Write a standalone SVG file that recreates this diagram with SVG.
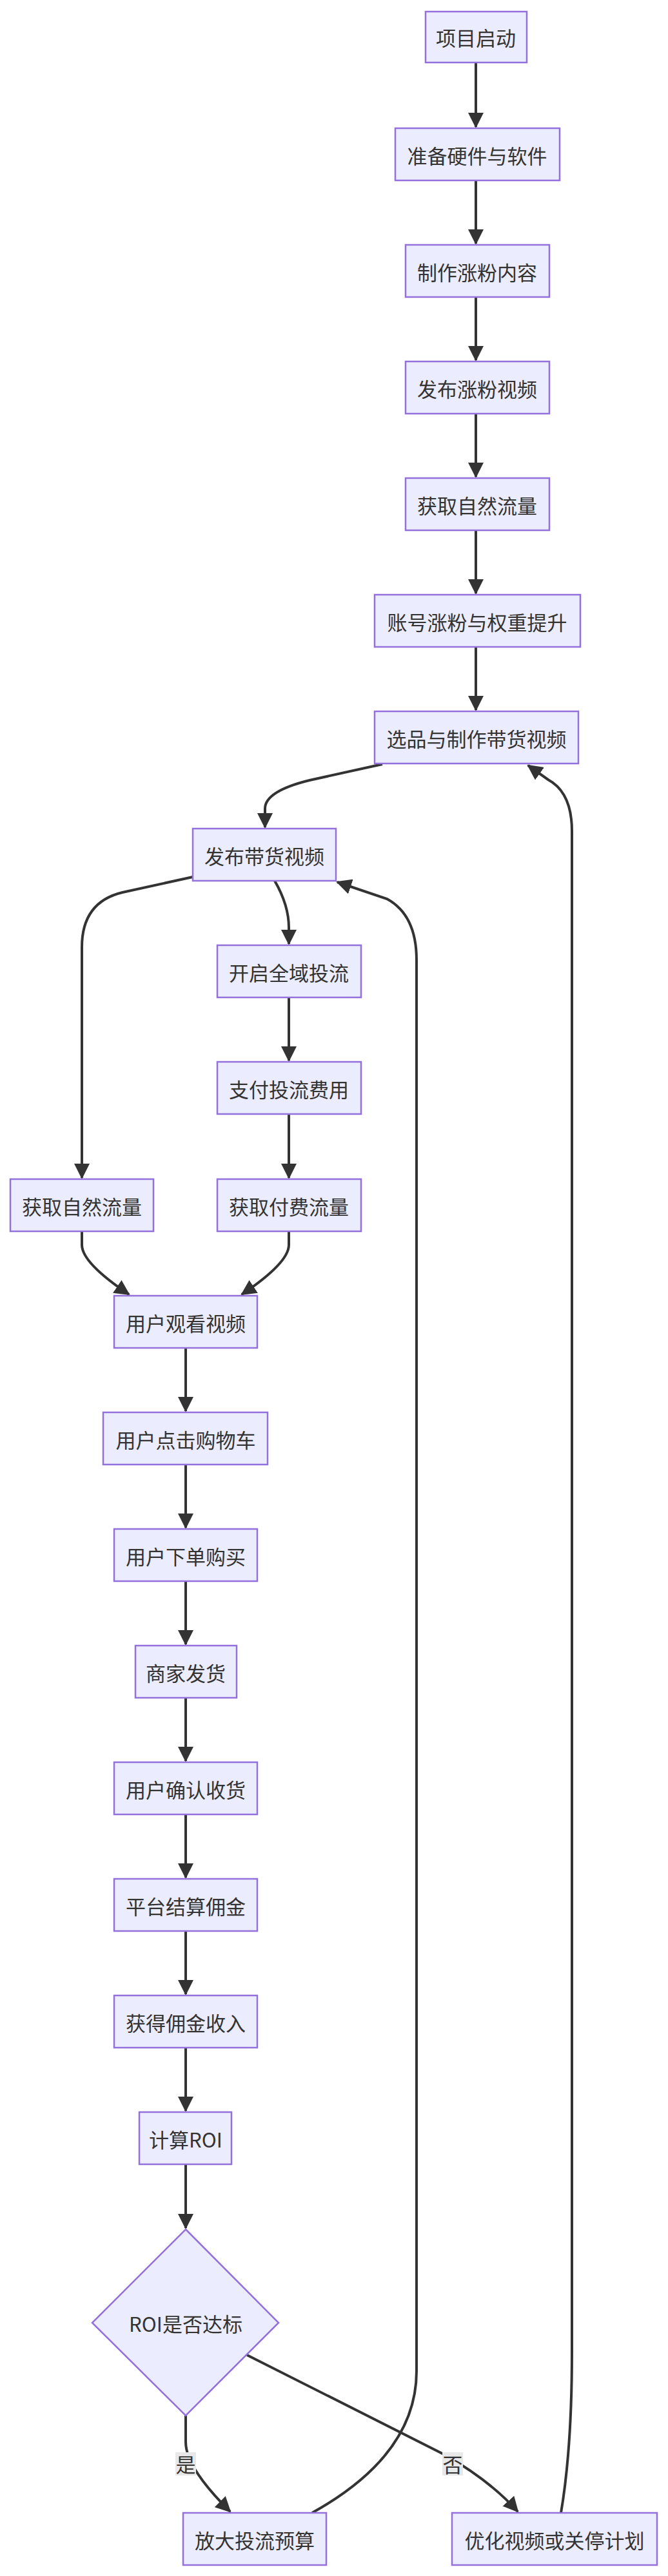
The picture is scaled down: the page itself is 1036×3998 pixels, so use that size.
<svg xmlns="http://www.w3.org/2000/svg" width="1036" height="3998" viewBox="0 0 1036 3998">
<style>
.n rect,.n polygon{fill:#ECECFF;stroke:#9370DB;stroke-width:2.5}
text{font-family:"Noto Sans CJK SC","Liberation Sans",sans-serif;font-size:31px;fill:#333;text-anchor:middle;dominant-baseline:central}
.e path{fill:none;stroke:#333;stroke-width:4}
.lb{fill:#e8e8e8}
</style>
<defs><marker id="a" markerUnits="userSpaceOnUse" markerWidth="24" markerHeight="24" refX="22" refY="12" orient="auto"><path d="M0,0 L24,12 L0,24 z" fill="#333"/></marker></defs>
<rect width="1036" height="3998" fill="#fff"/>
<g class="e" marker-end="url(#a)">
<path d="M738,97 L738,197" marker-end="url(#a)"/>
<path d="M738,280 L738,378" marker-end="url(#a)"/>
<path d="M738,461 L738,559" marker-end="url(#a)"/>
<path d="M738,642 L738,740" marker-end="url(#a)"/>
<path d="M738,823 L738,921" marker-end="url(#a)"/>
<path d="M738,1004 L738,1102" marker-end="url(#a)"/>
<path d="M593,1186 L480,1211 Q411,1228 411,1255 L411,1284" marker-end="url(#a)"/>
<path d="M299,1361 L190,1385 Q127,1400 127,1470 L127,1828" marker-end="url(#a)"/>
<path d="M426,1367 Q448,1405 448,1440 L448,1465" marker-end="url(#a)"/>
<path d="M448,1548 L448,1646" marker-end="url(#a)"/>
<path d="M448,1729 L448,1828" marker-end="url(#a)"/>
<path d="M127,1911 L127,1932 Q127,1960 200,2009" marker-end="url(#a)"/>
<path d="M448,1911 L448,1932 Q448,1960 375,2009" marker-end="url(#a)"/>
<path d="M288,2092 L288,2190" marker-end="url(#a)"/>
<path d="M288,2273 L288,2371" marker-end="url(#a)"/>
<path d="M288,2454 L288,2552" marker-end="url(#a)"/>
<path d="M288,2635 L288,2733" marker-end="url(#a)"/>
<path d="M288,2816 L288,2914" marker-end="url(#a)"/>
<path d="M288,2997 L288,3095" marker-end="url(#a)"/>
<path d="M288,3178 L288,3276" marker-end="url(#a)"/>
<path d="M288,3359 L288,3458" marker-end="url(#a)"/>
<path d="M288,3749 L288,3790 Q288,3830 357,3898" marker-end="url(#a)"/>
<path d="M383,3655 L690,3810 Q760,3850 803,3898" marker-end="url(#a)"/>
<path d="M484,3900 Q646,3810 646,3680 L646,1490 Q646,1420 600,1395 L523,1369" marker-end="url(#a)"/>
<path d="M870,3900 Q887,3800 887,3650 L887,1290 Q887,1230 850,1210 L819,1188" marker-end="url(#a)"/>
</g>
<g id="lbl1"><rect class="lb" x="272" y="3806" width="32" height="36"/><text x="288" y="3823">是</text></g>
<g id="lbl2"><rect class="lb" x="686" y="3806" width="32" height="36"/><text x="702" y="3823">否</text></g>
<g id="n1" class="n"><rect x="660" y="18" width="157" height="79"/><text x="738" y="57">项目启动</text></g>
<g id="n2" class="n"><rect x="613" y="199" width="255" height="81"/><text x="740" y="240">准备硬件与软件</text></g>
<g id="n3" class="n"><rect x="629" y="380" width="223" height="81"/><text x="740" y="421">制作涨粉内容</text></g>
<g id="n4" class="n"><rect x="629" y="561" width="223" height="81"/><text x="740" y="602">发布涨粉视频</text></g>
<g id="n5" class="n"><rect x="629" y="742" width="223" height="81"/><text x="740" y="783">获取自然流量</text></g>
<g id="n6" class="n"><rect x="581" y="923" width="319" height="81"/><text x="740" y="964">账号涨粉与权重提升</text></g>
<g id="n7" class="n"><rect x="581" y="1104" width="316" height="81"/><text x="739" y="1145">选品与制作带货视频</text></g>
<g id="n8" class="n"><rect x="299" y="1286" width="222" height="81"/><text x="410" y="1327">发布带货视频</text></g>
<g id="n9" class="n"><rect x="337" y="1467" width="223" height="81"/><text x="448" y="1508">开启全域投流</text></g>
<g id="n10" class="n"><rect x="337" y="1648" width="223" height="81"/><text x="448" y="1689">支付投流费用</text></g>
<g id="n11" class="n"><rect x="337" y="1830" width="223" height="81"/><text x="448" y="1871">获取付费流量</text></g>
<g id="n12" class="n"><rect x="16" y="1830" width="222" height="81"/><text x="127" y="1871">获取自然流量</text></g>
<g id="n13" class="n"><rect x="177" y="2011" width="222" height="81"/><text x="288" y="2052">用户观看视频</text></g>
<g id="n14" class="n"><rect x="160" y="2192" width="255" height="81"/><text x="288" y="2233">用户点击购物车</text></g>
<g id="n15" class="n"><rect x="177" y="2373" width="222" height="81"/><text x="288" y="2414">用户下单购买</text></g>
<g id="n16" class="n"><rect x="210" y="2554" width="157" height="81"/><text x="288" y="2595">商家发货</text></g>
<g id="n17" class="n"><rect x="177" y="2735" width="222" height="81"/><text x="288" y="2776">用户确认收货</text></g>
<g id="n18" class="n"><rect x="177" y="2916" width="222" height="81"/><text x="288" y="2957">平台结算佣金</text></g>
<g id="n19" class="n"><rect x="177" y="3097" width="222" height="81"/><text x="288" y="3138">获得佣金收入</text></g>
<g id="n20" class="n"><rect x="216" y="3278" width="143" height="81"/><text x="288" y="3319">计算ROI</text></g>
<g id="n21" class="n"><polygon points="288,3460 432,3605 288,3749 143,3605"/><text x="288" y="3605">ROI是否达标</text></g>
<g id="n22" class="n"><rect x="284" y="3900" width="222" height="81"/><text x="395" y="3941">放大投流预算</text></g>
<g id="n23" class="n"><rect x="701" y="3900" width="318" height="81"/><text x="860" y="3941">优化视频或关停计划</text></g>
</svg>
